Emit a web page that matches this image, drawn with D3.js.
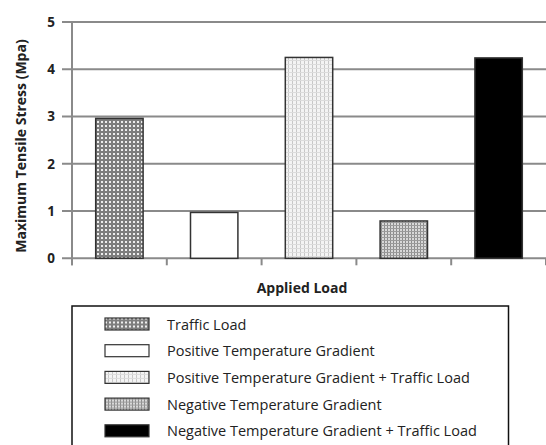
<!DOCTYPE html>
<html><head><meta charset="utf-8">
<script src="https://cdn.jsdelivr.net/npm/d3@7/dist/d3.min.js"></script>
<style>body{margin:0;background:#fff}svg{display:block}</style>
</head><body><svg id="c" width="546" height="445"></svg>
<script>
const categories = ["Traffic Load","Positive Temperature Gradient","Positive Temperature Gradient + Traffic Load","Negative Temperature Gradient","Negative Temperature Gradient + Traffic Load"];
const values = [2.96, 0.97, 4.25, 0.79, 4.24];
const yTicks = [0,1,2,3,4,5];
const fills = ["url(#pTraffic)","#fff","url(#pPosTraffic)","url(#pNeg)","#000"];

const svg = d3.select("#c");
const font = "'Open Sans', Lato, sans-serif";
const defs = svg.append("defs");
// patterns
let p = defs.append("pattern").attr("id","pTraffic").attr("width",4).attr("height",4).attr("patternUnits","userSpaceOnUse");
p.append("rect").attr("width",4).attr("height",4).attr("fill","#7e7e7e");
p.append("rect").attr("x",1).attr("y",1).attr("width",2).attr("height",2).attr("fill","#eeeeee");
p = defs.append("pattern").attr("id","pPosTraffic").attr("width",4).attr("height",4).attr("patternUnits","userSpaceOnUse");
p.append("rect").attr("width",4).attr("height",4).attr("fill","#f4f4f4");
p.append("rect").attr("x",0).attr("y",0).attr("width",1).attr("height",4).attr("fill","#c8c8c8");
p.append("rect").attr("x",0).attr("y",0).attr("width",4).attr("height",1).attr("fill","#dcdcdc");
p = defs.append("pattern").attr("id","pNeg").attr("width",3).attr("height",3).attr("patternUnits","userSpaceOnUse");
p.append("rect").attr("width",3).attr("height",3).attr("fill","#d8d8d8");
p.append("rect").attr("x",0).attr("y",0).attr("width",1).attr("height",3).attr("fill","#8c8c8c");
p.append("rect").attr("x",0).attr("y",0).attr("width",3).attr("height",1).attr("fill","#9a9a9a");

const pLeft = 72, pRight = 546, pTop = 22, pBottom = 258.3;
const x = d3.scaleBand().domain(categories).range([pLeft, pRight]).paddingInner(0.5).paddingOuter(0.25);
const y = d3.scaleLinear().domain([0,5]).range([pBottom, pTop]);

// gridlines
svg.append("g").selectAll("line").data(yTicks).join("line")
  .attr("x1", pLeft-10).attr("x2", pRight).attr("y1", d=>y(d)).attr("y2", d=>y(d))
  .attr("stroke","#8a8a8a").attr("stroke-width",2);
// y axis line
svg.append("line").attr("x1",pLeft).attr("x2",pLeft).attr("y1",y(5)).attr("y2",pBottom+7)
  .attr("stroke","#8a8a8a").attr("stroke-width",2);
// x category ticks
const bw = (pRight-pLeft)/categories.length;
svg.append("g").selectAll("line").data(d3.range(categories.length+1)).join("line")
  .attr("x1", i=>pLeft+i*bw).attr("x2", i=>pLeft+i*bw).attr("y1", pBottom).attr("y2", pBottom+7)
  .attr("stroke","#8a8a8a").attr("stroke-width",2);
// y tick labels
svg.append("g").selectAll("text").data(yTicks).join("text")
  .attr("x", 55).attr("y", d=>y(d)).attr("dy","0.35em").attr("text-anchor","end")
  .attr("font-family",font).attr("font-weight","bold").attr("font-size",13.5).attr("fill","#222")
  .text(d=>d);
// bars
svg.append("g").selectAll("rect").data(categories).join("rect")
  .attr("x", d=>x(d)).attr("width", x.bandwidth())
  .attr("y", (d,i)=>y(values[i])).attr("height",(d,i)=>pBottom-y(values[i]))
  .attr("fill",(d,i)=>fills[i]).attr("stroke","#333").attr("stroke-width",1.5);
// axis titles
svg.append("text").attr("x",302).attr("y",293).attr("text-anchor","middle")
  .attr("font-family",font).attr("font-weight","bold").attr("font-size",14).attr("fill","#222").text("Applied Load");
svg.append("text").attr("transform","translate(26,146) rotate(-90)").attr("text-anchor","middle")
  .attr("font-family",font).attr("font-weight","bold").attr("font-size",14).attr("fill","#222").text("Maximum Tensile Stress (Mpa)");
// legend
svg.append("rect").attr("x",72).attr("y",306).attr("width",436.5).attr("height",160)
  .attr("fill","#fff").attr("stroke","#111").attr("stroke-width",1.5);
const lg = svg.append("g").selectAll("g").data(categories).join("g")
  .attr("transform",(d,i)=>`translate(0,${324.5+i*26.7})`);
lg.append("rect").attr("x",105).attr("y",-6.5).attr("width",44).attr("height",12)
  .attr("fill",(d,i)=>fills[i]).attr("stroke","#333").attr("stroke-width",1.2);
lg.append("text").attr("x",167).attr("y",0).attr("dy","0.35em")
  .attr("font-family",font).attr("font-size",14.5).attr("fill","#222").text(d=>d);
</script></body></html>
